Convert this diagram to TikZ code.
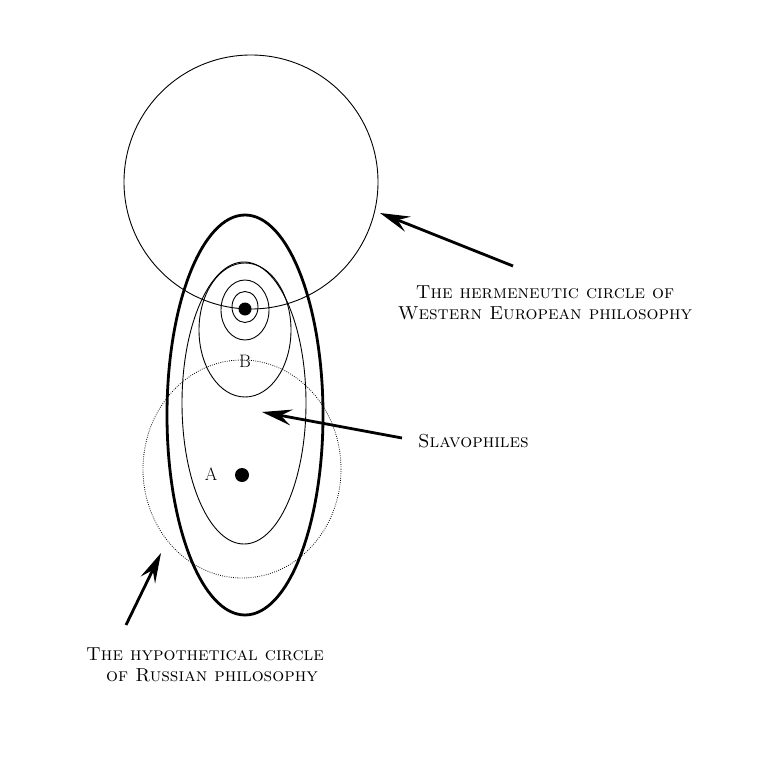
\documentclass[tikz,border=0pt]{standalone}
\usetikzlibrary{arrows.meta}
\begin{document}
\begin{tikzpicture}[x=1pt,y=-1pt,
  thinline/.style={line width=0.9pt},
  thickline/.style={line width=2.8pt},
  dottedline/.style={line width=0.8pt, dash pattern=on 0.8pt off 1.4pt},
  pointer/.style={line width=2.8pt, -{Stealth[length=30pt,width=16pt,inset=11pt]}},
  lbl/.style={font=\fontsize{18.8}{20.5}\selectfont\scshape, inner sep=0pt},
  letter/.style={font=\fontsize{18}{20}\selectfont, inner sep=0pt},
  dot/.style={circle, fill=black, inner sep=0pt}]
\useasboundingbox (0,0) rectangle (758,759);
% big circle (Western European)
\draw[thinline] (251,182) circle [radius=127];
% thick ellipse (Russian)
\draw[thickline] (245,415) ellipse [x radius=78, y radius=200];
% dotted circle
\draw[dottedline] (242,469) ellipse [x radius=99, y radius=109];
% medium ellipse (Slavophiles)
\draw[thinline] (244,403) ellipse [x radius=62, y radius=141];
% B ellipse
\draw[thinline] (245,330) ellipse [x radius=46, y radius=67];
% concentric around dot
\draw[thinline] (245,310) ellipse [x radius=24, y radius=30];
\draw[thinline] (245,307) ellipse [x radius=13, y radius=15.5];
% dots
\node[dot, minimum size=13pt] (dotB) at (245,309) {};
\node[dot, minimum size=14pt] (dotA) at (242,475) {};
% letters
\node[letter] (labA) at (211,474) {A};
\node[letter] (labB) at (245,361) {B};
% labels
\node[lbl, align=center] (west) at (545,303) {The hermeneutic circle of\\Western European philosophy};
\node[lbl, anchor=west] (slav) at (418,441) {Slavophiles};
\node[lbl, align=left, anchor=west] (russ) at (86,665) {The hypothetical circle\\\hspace*{20pt}of Russian philosophy};
% arrows
\coordinate (w1) at (513,266);
\coordinate (w2) at (380,213);
\coordinate (s1) at (402,438);
\coordinate (s2) at (262,412);
\coordinate (r1) at (126,625);
\coordinate (r2) at (161,553);
\draw[pointer] (w1) -- (w2);
\draw[pointer] (s1) -- (s2);
\draw[pointer] (r1) -- (r2);
\end{tikzpicture}
\end{document}
